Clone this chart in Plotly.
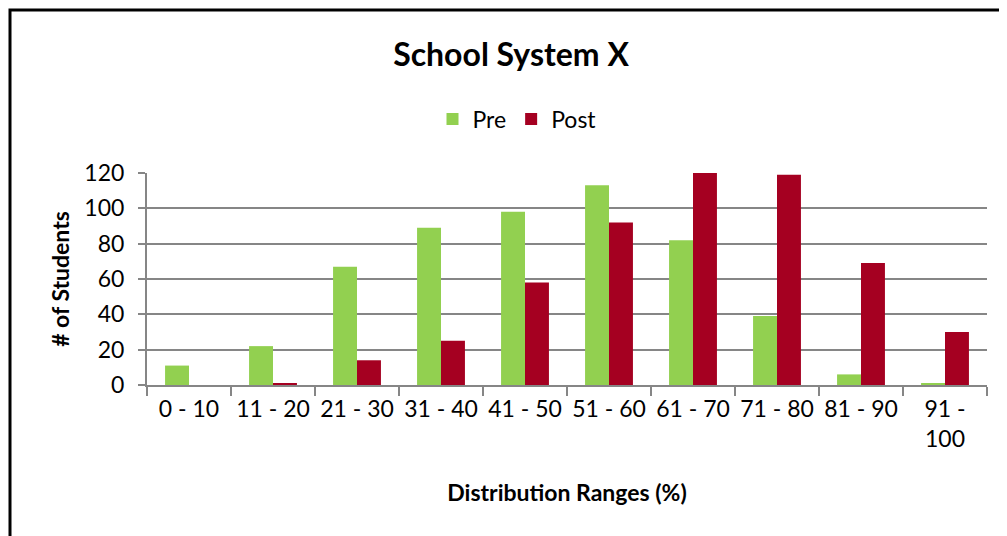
import plotly.graph_objects as go

categories = ["0 - 10", "11 - 20", "21 - 30", "31 - 40", "41 - 50",
              "51 - 60", "61 - 70", "71 - 80", "81 - 90", "91 - 100"]
tick_labels = ["0 - 10", "11 - 20", "21 - 30", "31 - 40", "41 - 50",
               "51 - 60", "61 - 70", "71 - 80", "81 - 90", "91 -<br>100"]
pre = [11, 22, 67, 89, 98, 113, 82, 39, 6, 1]
post = [0, 1, 14, 25, 58, 92, 120, 119, 69, 30]

# page is offset by the 8px body margin; figure sized to fit the window
OFF = 8
W, H = 1007 - OFF, 536 - OFF
L, T = 147 - OFF, 173 - OFF
R = W - (987 - OFF)
B = H - (385 - OFF)
pw, ph = W - L - R, H - T - B

font_family = "Lato, 'Open Sans', sans-serif"

fig = go.Figure()
fig.add_trace(go.Bar(name="Pre", x=categories, y=pre, marker_color="#92D050",
                     marker_line_width=0))
fig.add_trace(go.Bar(name="Post", x=categories, y=post, marker_color="#A50021",
                     marker_line_width=0))

fig.update_layout(
    width=W, height=H,
    margin=dict(l=L, r=R, t=T, b=B),
    paper_bgcolor="white", plot_bgcolor="white",
    barmode="group", bargap=0.43, bargroupgap=0,
    font=dict(family=font_family, color="black", size=23),
    title=dict(text="<b>School System X</b>", x=(511 - OFF) / W, xanchor="center",
               y=1 - (55 - OFF) / H, yanchor="middle",
               font=dict(size=32, family=font_family)),
    legend=dict(orientation="h", x=(517 - OFF - L) / pw, xanchor="center",
                y=1 + (T - (119 - OFF)) / ph, yanchor="middle",
                font=dict(size=23), itemwidth=30, traceorder="normal"),
    showlegend=True,
)

fig.update_xaxes(
    tickmode="array", tickvals=categories, ticktext=tick_labels,
    showline=True, linecolor="#868686", linewidth=2,
    ticks="outside", tickson="boundaries", ticklen=9, tickcolor="#868686", tickwidth=2,
    showgrid=False,
    title=dict(text="<b>Distribution Ranges (%)</b>", font=dict(size=23), standoff=34),
    tickfont=dict(size=23), ticklabelstandoff=2,
)
fig.update_yaxes(
    range=[0, 120], dtick=20,
    showline=True, linecolor="#868686", linewidth=2,
    ticks="outside", ticklen=7, tickcolor="#868686", tickwidth=2,
    showgrid=True, gridcolor="#868686", gridwidth=2,
    zeroline=False,
    title=dict(text="<b># of Students</b>", font=dict(size=23), standoff=8),
    tickfont=dict(size=23), ticklabelstandoff=9,
)

# chart frame (left and top edges visible; right/bottom fall outside the view)
fig.add_shape(type="rect", xref="paper", yref="paper",
              x0=(10 - OFF - L) / pw, x1=(1040 - L) / pw,
              y0=-(H + 40 - T - ph) / ph, y1=1 + (T - (10 - OFF)) / ph,
              line=dict(color="black", width=3), fillcolor="rgba(0,0,0,0)",
              layer="above")

fig.write_html("out.html")
